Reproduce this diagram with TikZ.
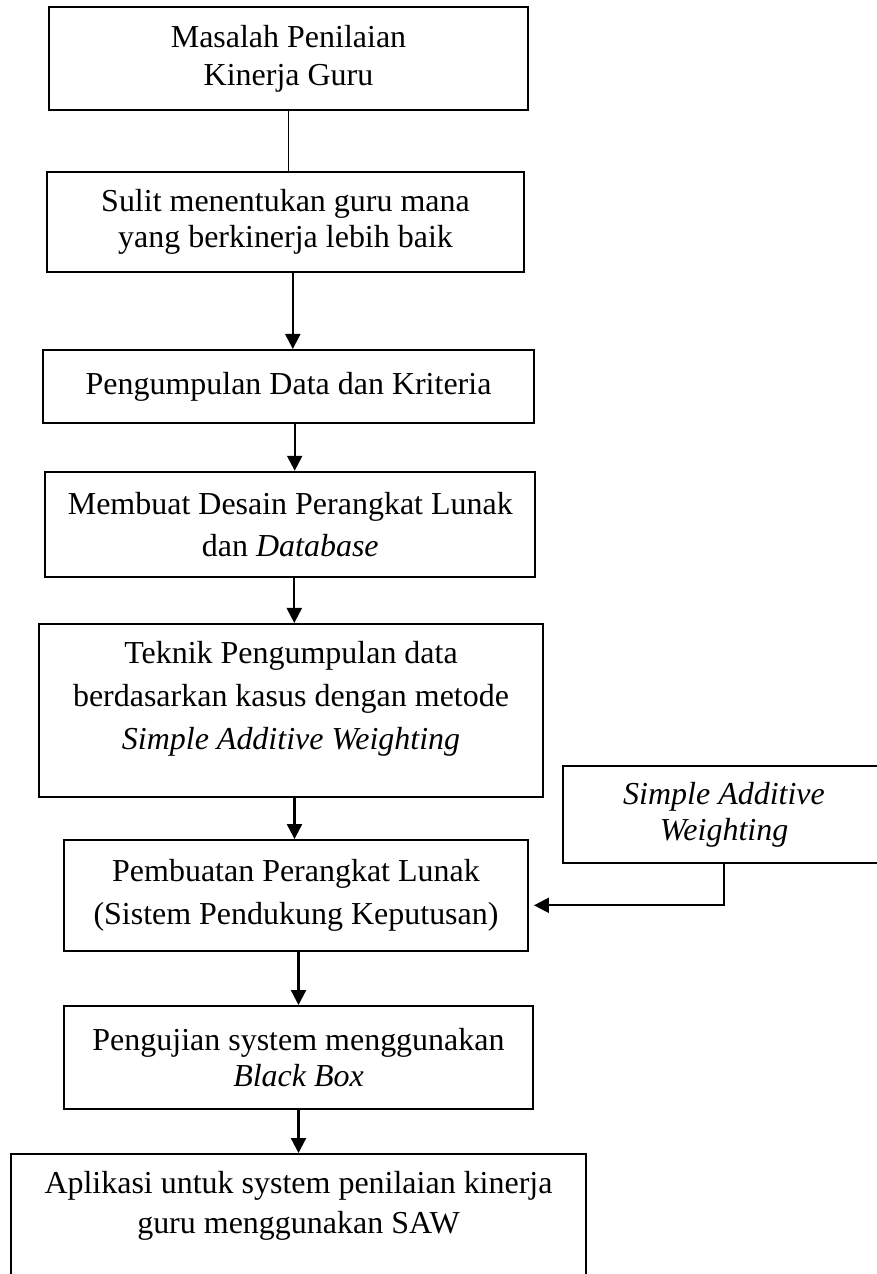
\documentclass[tikz,border=0pt]{standalone}
\usepackage{fontspec}
\setmainfont{Liberation Serif}
\usetikzlibrary{arrows.meta}

\tikzset{
  kotak/.style={draw, line width=0.04cm, inner sep=0cm, align=center,
    font=\fontsize{18.2}{22.8}\selectfont},
  garis/.style={line width=0.03cm},
  panah/.style={line width=0.045cm, ->, >={Triangle[length=0.3cm,width=0.3cm]}}
}

\begin{document}
\begin{tikzpicture}[x=0.02cm, y=-0.02cm]
\useasboundingbox (0,0) rectangle (876,1274);

% kotak utama
\node[kotak, minimum width=9.6cm, minimum height=2.06cm,
      font=\fontsize{18.2}{21.8}\selectfont] (masalah) at (288.5,58.8)
  {Masalah Penilaian\\Kinerja Guru};
\node[kotak, minimum width=9.56cm, minimum height=1.99cm,
      font=\fontsize{18.2}{20.8}\selectfont] (sulit) at (285.5,221.9)
  {Sulit menentukan guru mana\\yang berkinerja lebih baik};
\node[kotak, minimum width=9.82cm, minimum height=1.47cm] (pengumpulan) at (288.5,386.7)
  {Pengumpulan Data dan Kriteria};
\node[kotak, minimum width=9.8cm, minimum height=2.11cm,
      font=\fontsize{18.2}{24.2}\selectfont] (desain) at (290.3,524.5)
  {Membuat Desain Perangkat Lunak\\dan \textit{Database}};
\node[kotak, minimum width=10.1cm, minimum height=3.47cm,
      font=\fontsize{18.2}{24.5}\selectfont] (teknik) at (291,710.7)
  {Teknik Pengumpulan data\\berdasarkan kasus dengan metode\\\textit{Simple Additive Weighting}\\[-7pt]\mbox{}};
\node[kotak, minimum width=9.28cm, minimum height=2.21cm,
      font=\fontsize{18.2}{24.6}\selectfont] (pembuatan) at (296,895.3)
  {Pembuatan Perangkat Lunak\\(Sistem Pendukung Keputusan)};
\node[kotak, minimum width=9.38cm, minimum height=2.06cm,
      font=\fontsize{18.2}{20.9}\selectfont] (pengujian) at (298.5,1057.5)
  {Pengujian system menggunakan\\\textit{Black Box}};
\node[kotak, minimum width=11.5cm, minimum height=2.72cm] (aplikasi) at (298.5,1222)
  {Aplikasi untuk system penilaian kinerja\\guru menggunakan SAW\\\mbox{}};

% metode di kanan
\node[kotak, minimum width=6.46cm, minimum height=1.95cm,
      font=\fontsize{18.2}{20.8}\itshape] (saw) at (724,814.7)
  {Simple Additive\\Weighting};

% panah
\draw[garis] (masalah.south) -- (masalah.south |- sulit.north);
\draw[panah] ([xshift=0.146cm]sulit.south) -- ([xshift=0.146cm]sulit.south |- pengumpulan.north);
\draw[panah] ([xshift=0.124cm]pengumpulan.south) -- ([xshift=0.124cm]pengumpulan.south |- desain.north);
\draw[panah] ([xshift=0.08cm]desain.south) -- ([xshift=0.08cm]desain.south |- teknik.north);
\draw[panah] ([xshift=0.07cm]teknik.south) -- ([xshift=0.07cm]teknik.south |- pembuatan.north);
\draw[panah] ([xshift=0.05cm]pembuatan.south) -- ([xshift=0.05cm]pembuatan.south |- pengujian.north);
\draw[panah] (pengujian.south) -- (pengujian.south |- aplikasi.north);
\draw[panah] (saw.south) |- ([yshift=-0.2cm, xshift=0.1cm]pembuatan.east);

\end{tikzpicture}
\end{document}
